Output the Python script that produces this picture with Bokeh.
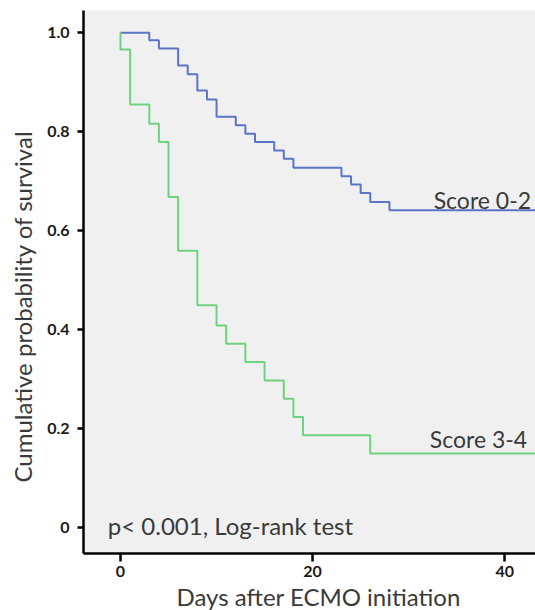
from bokeh.plotting import figure
from bokeh.models import Range1d, FixedTicker, Label, Title, NumeralTickFormatter
from bokeh.embed import file_html
from bokeh.resources import INLINE

# ---- data ----
score02_days = [0, 3, 4, 6, 7, 8, 9, 10, 12, 13, 14, 16, 17, 18, 23, 24, 25, 26, 28, 44]
score02_surv = [1.0, 0.985, 0.968, 0.934, 0.916, 0.883, 0.865, 0.830, 0.813, 0.796,
                0.779, 0.762, 0.745, 0.727, 0.710, 0.693, 0.676, 0.658, 0.641, 0.641]

score34_days = [0, 0, 1, 3, 4, 5, 6, 8, 10, 11, 13, 15, 17, 18, 19, 26, 44]
score34_surv = [1.0, 0.966, 0.855, 0.816, 0.779, 0.668, 0.559, 0.449, 0.408, 0.371,
                0.334, 0.297, 0.260, 0.223, 0.186, 0.149, 0.149]

y_ticks = [0, 0.2, 0.4, 0.6, 0.8, 1.0]
x_ticks = [0, 20, 40]

x_title = "Days after ECMO initiation"
y_title = "Cumulative probability of survival"
label_02 = "Score 0-2"
label_34 = "Score 3-4"
p_text = "p< 0.001, Log-rank test"

FONT = "Lato"
TXT = "#3a3a3a"

p = figure(width=535, height=610, output_backend="svg", toolbar_location=None,
           x_range=Range1d(-3.85, 43.2), y_range=Range1d(-0.053, 1.045))
p.min_border_left = 83
p.min_border_right = 0
p.min_border_top = 10
p.min_border_bottom = 57
p.background_fill_color = "#f0f0f0"
p.border_fill_color = "white"
p.outline_line_color = None
p.grid.visible = False

p.step(score02_days, score02_surv, mode="after", line_color="#5b74c6", line_width=2)
p.step(score34_days, score34_surv, mode="after", line_color="#6fd27f", line_width=2)

for ax in (p.xaxis[0], p.yaxis[0]):
    ax.axis_line_width = 2.5
    ax.axis_line_color = "black"
    ax.major_tick_line_width = 2.5
    ax.major_tick_line_color = "black"
    ax.major_tick_in = 0
    ax.minor_tick_line_color = None
    ax.major_label_text_font = FONT
    ax.major_label_text_font_style = "bold"
    ax.major_label_text_font_size = "16px"
    ax.major_label_text_color = "#1a1a1a"

p.yaxis.ticker = FixedTicker(ticks=y_ticks)
p.yaxis.formatter = NumeralTickFormatter(format="0.0")
p.yaxis.major_label_overrides = {0: "0"}
p.yaxis.major_tick_out = 6
p.yaxis.major_label_standoff = 8
p.xaxis.ticker = FixedTicker(ticks=x_ticks)
p.xaxis.major_tick_out = 8
p.xaxis.major_label_standoff = 4

def add_label(x, y, text, size="24px", **kw):
    p.add_layout(Label(x=x, y=y, text=text, text_font=FONT, text_font_size=size,
                       text_color=TXT, **kw))

add_label(32.6, 0.662, label_02, size="23px", text_baseline="alphabetic", text_align="left")
add_label(32.2, 0.178, label_34, size="23px", text_baseline="alphabetic", text_align="left")
add_label(-1.32, 0.004, p_text, text_baseline="alphabetic", text_align="left")

xt = Title(text=x_title, align="left", offset=93, standoff=0, text_font=FONT,
           text_font_size="24px", text_font_style="normal", text_color=TXT)
p.add_layout(xt, "below")
yt = Title(text=y_title, align="left", offset=71, standoff=12, vertical_align="top",
           text_font=FONT, text_font_size="24px", text_font_style="normal", text_color=TXT)
p.add_layout(yt, "left")

open("out.html", "w").write(file_html(p, INLINE))
